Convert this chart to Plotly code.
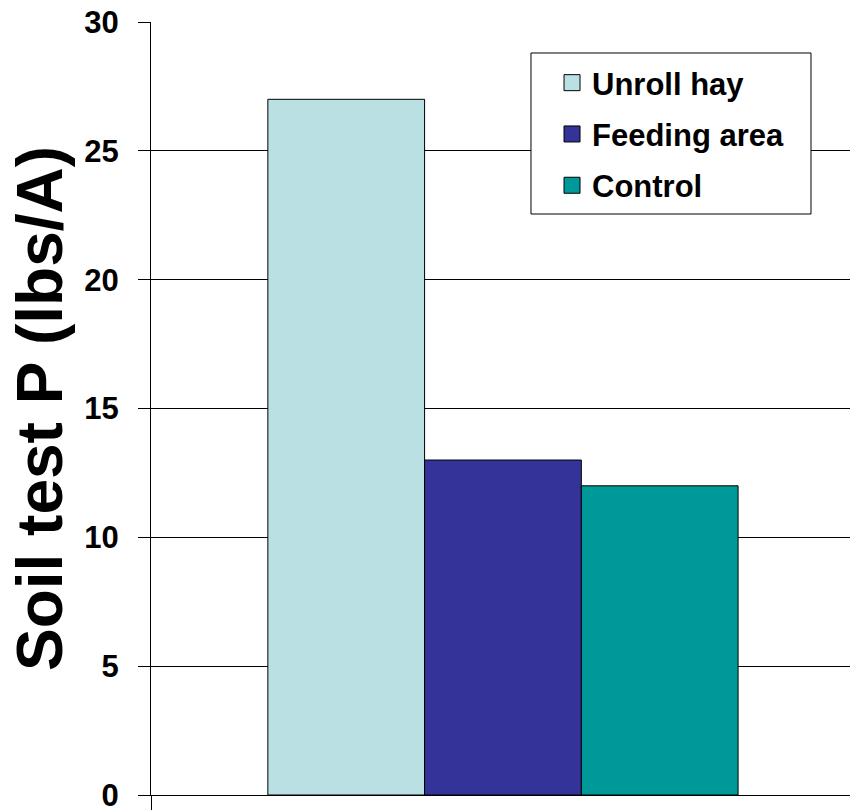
import plotly.graph_objects as go

categories = [""]
series_names = ["Unroll hay", "Feeding area", "Control"]
series_values = [[27], [13], [12]]
series_colors = ["#BBE0E3", "#333399", "#009999"]
y_ticks = [0, 5, 10, 15, 20, 25, 30]
y_title = "Soil test P (lbs/A)"

FONT = "Arial, Liberation Sans, sans-serif"

fig = go.Figure()
for i, (name, vals, col) in enumerate(zip(series_names, series_values, series_colors)):
    fig.add_trace(go.Bar(
        x=categories, y=vals, name=name,
        marker=dict(color=col, line=dict(color="black", width=1)),
        showlegend=False,
    ))
# legend entries with larger square swatches
for i, (name, col) in enumerate(zip(series_names, series_colors)):
    fig.add_trace(go.Scatter(
        x=[None], y=[None], name=name, mode="markers",
        marker=dict(symbol="square", size=16, color=col, line=dict(color="black", width=1)),
        legendgroup=f"g{i}", showlegend=True,
    ))

# legend frame
fig.add_shape(type="rect", xref="paper", yref="paper",
              x0=0.5436, x1=0.9442, y0=0.7516, y1=0.9599,
              line=dict(color="black", width=1), fillcolor="white", layer="above")

fig.update_layout(
    width=850, height=810,
    margin=dict(l=151, r=0, t=22, b=15),
    paper_bgcolor="white", plot_bgcolor="white",
    barmode="group", bargap=0.332, bargroupgap=0,
    font=dict(family=FONT, color="black"),
    legend=dict(
        x=0.5737, y=0.956, xanchor="left", yanchor="top",
        bgcolor="rgba(0,0,0,0)", borderwidth=0,
        font=dict(family=FONT, size=31, color="black", weight="bold"),
        traceorder="grouped", tracegroupgap=8, itemsizing="trace",
    ),
    showlegend=True,
)
fig.update_xaxes(
    range=[-0.5, 0.493], showticklabels=False, showgrid=False,
    showline=True, linecolor="black", linewidth=1,
    ticks="outside", tickson="boundaries", ticklen=15, tickcolor="black",
    zeroline=False, automargin=False,
)
fig.update_yaxes(
    range=[0, 30], tickvals=y_ticks, ticktext=[str(v) for v in y_ticks],
    showgrid=True, gridcolor="black", gridwidth=1,
    showline=True, linecolor="black", linewidth=1, mirror=False,
    ticks="outside", ticklen=12, tickcolor="black",
    ticklabelstandoff=13, ticklabeloverflow="allow",
    tickfont=dict(family=FONT, size=31, color="black", weight="bold"),
    zeroline=False, automargin=False,
    title=dict(text=y_title, font=dict(family=FONT, size=64, color="black", weight="bold"), standoff=0),
)

fig.write_html("out.html", config={"displayModeBar": False},
               post_script="document.body.style.margin='0px';")
